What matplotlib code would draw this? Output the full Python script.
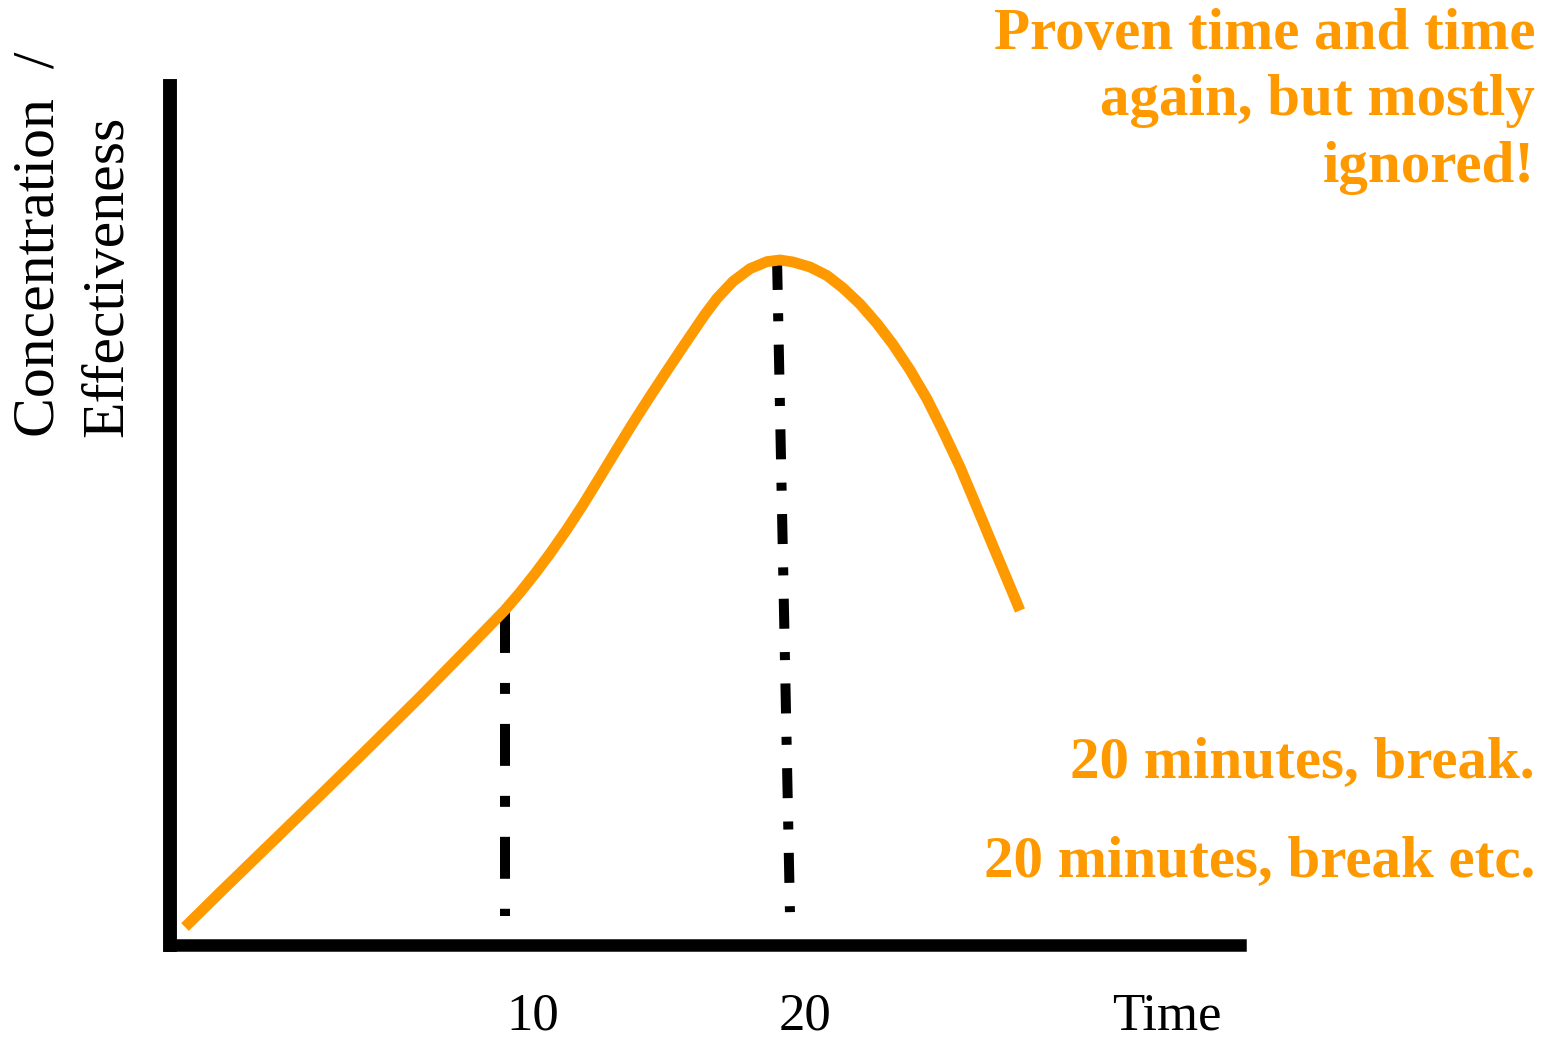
import matplotlib
matplotlib.use("Agg")
import matplotlib.pyplot as plt

plt.rcParams['lines.scale_dashes'] = False

# ---- data (schematic units: x 0..100 along time axis, y 0..100 effectiveness)
curve_x = [1.395, 4.651, 9.302, 13.953, 18.605, 23.256, 27.907, 31.163, 32.558,
           33.953, 35.349, 36.930, 38.419, 40.000, 41.581, 43.070, 44.651, 46.233,
           47.721, 49.767, 50.884, 52.372, 53.953, 55.535, 56.744, 57.953, 59.535,
           61.116, 62.605, 64.186, 65.767, 67.256, 68.837, 70.419, 71.907, 73.488,
           75.070, 76.558, 78.140, 79.070]
curve_y = [2.081, 6.069, 11.676, 17.283, 22.948, 28.671, 34.566, 38.728, 40.751,
           42.925, 45.249, 48.069, 50.902, 54.104, 57.341, 60.347, 63.410, 66.393,
           69.168, 72.902, 74.751, 76.717, 78.185, 79.006, 79.191, 78.960, 78.382,
           77.399, 75.954, 74.104, 71.850, 69.422, 66.474, 63.121, 59.422, 55.260,
           50.578, 46.127, 41.445, 38.671]

# marker lines (top point first, bottom point second)
mark10_x = [31.16, 31.16]
mark10_y = [38.6, 3.4]
mark20_x = [56.47, 57.67]
mark20_y = [79.2, 3.8]

tick_pos = [33.77, 59.07, 92.74]
tick_labels = ['10', '20', 'Time']

ylabel_lines = ['Concentration  /', 'Effectiveness']
note_top = ['Proven time and time', 'again, but mostly', 'ignored!']
note_bottom = ['20 minutes, break.', '20 minutes, break etc.']

ORANGE = '#FF9900'
W, H = 1549, 1038

fig = plt.figure(figsize=(W / 100, H / 100), dpi=100)
ax = fig.add_axes([170 / W, (H - 945) / H, (1240 - 170) / W, (945 - 86) / H])
ax.set_xlim(0, 100 * (1240 - 170) / 1075)
ax.set_ylim(0, 100 * (945 - 86) / 865)

ax.plot(curve_x, curve_y, color=ORANGE, lw=7.8, solid_capstyle='butt',
        solid_joinstyle='round', zorder=3)
ax.plot(mark10_x, mark10_y, color='black', lw=7.2,
        linestyle=(0, (30.2, 21.6, 7.9, 21.6)), dash_capstyle='butt', zorder=2)
ax.plot(mark20_x, mark20_y, color='black', lw=7.2,
        linestyle=(0, (21.6, 16.8, 5.8, 16.8)), dash_capstyle='butt', zorder=2)

for s in ['top', 'right']:
    ax.spines[s].set_visible(False)
ax.spines['left'].set_linewidth(10)
ax.spines['bottom'].set_linewidth(9)
ax.set_yticks([])
ax.set_xticks(tick_pos, tick_labels)
ax.tick_params(axis='x', length=0, pad=34, labelsize=38)
for lab in ax.get_xticklabels():
    lab.set_fontfamily('Liberation Serif')

# y label (two rotated lines)
fig.text(53 / W, 1 - 437 / H, ylabel_lines[0], rotation=90, rotation_mode='anchor',
         ha='left', va='baseline', fontsize=43, family='Liberation Serif')
fig.text(122 / W, 1 - 437 / H, ylabel_lines[1], rotation=90, rotation_mode='anchor',
         ha='left', va='baseline', fontsize=43, family='Liberation Serif')

# orange notes
for line, base in zip(note_top, [49, 115, 182]):
    fig.text(1535 / W, 1 - base / H, line, ha='right', va='baseline',
             fontsize=42.5, fontweight='bold', family='Liberation Serif', color=ORANGE)
for line, base in zip(note_bottom, [777, 876]):
    fig.text(1535 / W, 1 - base / H, line, ha='right', va='baseline',
             fontsize=42.5, fontweight='bold', family='Liberation Serif', color=ORANGE)

fig.savefig('out.png', dpi=100, facecolor='white')
